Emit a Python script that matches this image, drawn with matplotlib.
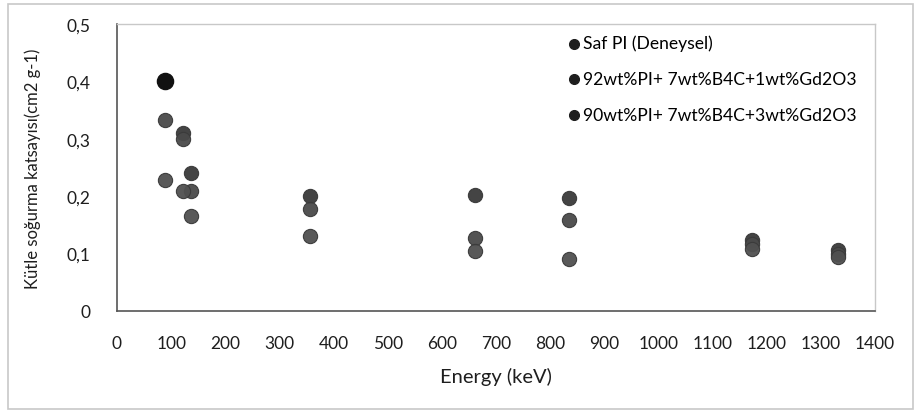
import matplotlib
matplotlib.use("Agg")
import matplotlib.pyplot as plt
from matplotlib.patches import Rectangle
import numpy as np

plt.rcParams['font.family'] = ['Lato', 'DejaVu Sans']

# Gamma energies (keV)
energy = [88, 122, 136, 356, 662, 835, 1173, 1332]

# Mass attenuation coefficients (cm2 g-1)
saf_pi = [0.400, 0.310, 0.240, 0.200, 0.202, 0.197, 0.124, 0.107]
pi92_gd1 = [0.333, 0.300, 0.209, 0.177, 0.127, 0.159, 0.117, 0.100]
pi90_gd3 = [0.228, 0.209, 0.165, 0.130, 0.105, 0.091, 0.108, 0.094]

series_names = ["Saf PI (Deneysel)",
                "92wt%PI+ 7wt%B4C+1wt%Gd2O3",
                "90wt%PI+ 7wt%B4C+3wt%Gd2O3"]

x_ticks = list(range(0, 1401, 100))
y_ticks = [0, 0.1, 0.2, 0.3, 0.4, 0.5]
y_tick_labels = ["0", "0,1", "0,2", "0,3", "0,4", "0,5"]

fig = plt.figure(figsize=(9.24, 4.14), dpi=100)
fig.patch.set_facecolor("white")

# light outer chart frame
fig.patches.append(Rectangle((8 / 924, 1 - 410 / 414), 905 / 924, 405 / 414,
                             transform=fig.transFigure, fill=False,
                             edgecolor="#c8c8c8", linewidth=1.2))

ax = fig.add_axes([117 / 924, 1 - 312 / 414, 758 / 924, 287 / 414])

colors = ["#3a3a3a", "#4a4a4a", "#505050"]
for vals, name, c in zip([saf_pi, pi92_gd1, pi90_gd3], series_names, colors):
    ax.scatter(energy, vals, s=105, color=c, edgecolors="#3a3a3a",
               linewidths=0.8, alpha=0.95, zorder=3, label=name)

# the highest measured value drawn as a darker point
i_max = int(np.argmax(saf_pi))
ax.scatter([energy[i_max]], [saf_pi[i_max]], s=135, color="#111111",
           edgecolors="#111111", zorder=4)

ax.set_xlim(0, 1400)
ax.set_ylim(0, 0.5)
ax.set_xticks(x_ticks)
ax.set_xticklabels([str(v) for v in x_ticks])
ax.set_yticks(y_ticks)
ax.set_yticklabels(y_tick_labels)
ax.tick_params(axis="both", length=0, labelsize=12.5, colors="#1e1e1e")
ax.tick_params(axis="x", pad=17)
ax.tick_params(axis="y", pad=19)

for side in ["left", "bottom"]:
    ax.spines[side].set_color("#555555")
    ax.spines[side].set_linewidth(1.2)
for side in ["top", "right"]:
    ax.spines[side].set_color("#c8c8c8")
    ax.spines[side].set_linewidth(1.0)

ax.set_xlabel("Energy (keV)", fontsize=14.5, color="#1e1e1e", labelpad=12)
ax.set_ylabel("Kütle soğurma katsayısı(cm2 g-1)", fontsize=12,
              color="#1e1e1e")
ax.yaxis.set_label_coords(-0.1, 0.5)

leg = ax.legend(loc="upper left", bbox_to_anchor=(0.575, 1.005), frameon=False,
                fontsize=12.6, handlelength=1.0, handletextpad=0.0,
                labelspacing=1.12, markerscale=0.7, borderaxespad=0.3)
for h in leg.legend_handles:
    h.set_color("#1e1e1e")
    h.set_edgecolor("#1e1e1e")
    h.set_alpha(1)

fig.savefig("out.png", dpi=100, facecolor="white")
